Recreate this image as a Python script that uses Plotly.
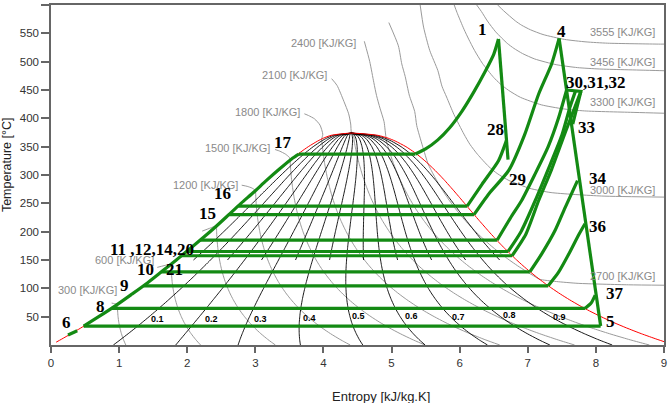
import plotly.graph_objects as go

# ---------------- saturation table (steam) ----------------
SAT_T  = [0.01, 5, 10, 20, 30, 40, 50, 60, 70, 80, 90, 100, 110, 120, 130, 140, 150, 160, 170, 180, 190,
          200, 210, 220, 230, 240, 250, 260, 270, 280, 290, 300, 310, 320, 330, 340, 350, 360, 365, 370, 373.95]
SAT_SF = [0.0, 0.0763, 0.151, 0.2966, 0.4369, 0.5725, 0.7038, 0.8313, 0.955, 1.075, 1.192, 1.307, 1.418, 1.528,
          1.634, 1.739, 1.842, 1.943, 2.042, 2.140, 2.236, 2.331, 2.425, 2.518, 2.610, 2.702, 2.794, 2.885,
          2.977, 3.069, 3.161, 3.255, 3.351, 3.449, 3.552, 3.660, 3.778, 3.916, 4.000, 4.111, 4.407]
SAT_SG = [9.155, 9.025, 8.899, 8.666, 8.452, 8.255, 8.075, 7.908, 7.754, 7.611, 7.478, 7.354, 7.238, 7.129,
          7.026, 6.929, 6.837, 6.749, 6.665, 6.584, 6.506, 6.430, 6.357, 6.284, 6.213, 6.142, 6.072, 6.001,
          5.930, 5.857, 5.783, 5.705, 5.623, 5.536, 5.441, 5.335, 5.211, 5.053, 4.950, 4.800, 4.407]
SAT_HF = [0.0, 21.0, 42.0, 83.9, 125.7, 167.5, 209.3, 251.1, 293.0, 334.9, 376.9, 419.1, 461.4, 503.8, 546.4,
          589.2, 632.2, 675.5, 719.1, 763.1, 807.4, 852.3, 897.6, 943.6, 990.2, 1037.6, 1085.8, 1135.0,
          1185.3, 1236.9, 1290.0, 1345.0, 1402.2, 1462.2, 1525.9, 1594.5, 1670.9, 1761.7, 1817.0, 1890.7, 2084.3]
SAT_HG = [2501.0, 2510.1, 2519.2, 2537.4, 2555.6, 2573.5, 2591.3, 2608.8, 2626.1, 2643.0, 2659.6, 2675.6,
          2691.1, 2705.9, 2720.1, 2733.5, 2745.9, 2757.4, 2767.9, 2777.2, 2785.3, 2792.0, 2797.3, 2800.9,
          2802.9, 2803.0, 2800.9, 2796.6, 2789.7, 2779.9, 2766.7, 2749.6, 2727.9, 2700.6, 2666.0, 2621.8,
          2563.6, 2481.5, 2414.0, 2334.5, 2084.3]

QUALITY_MAJOR = [0.1, 0.2, 0.3, 0.4, 0.5, 0.6, 0.7, 0.8, 0.9]
QUALITY_MINOR = [0.05, 0.15, 0.25, 0.35, 0.45, 0.55, 0.65, 0.75, 0.85, 0.95]
QUALITY_MINOR_TMIN = 150
QUALITY_LABEL_S = [1.57, 2.35, 3.07, 3.80, 4.52, 5.30, 5.99, 6.73, 7.46]
QUALITY_LABEL_T = [45.7, 45.7, 45.7, 48.0, 51.6, 51.6, 49.8, 52.8, 49.8]

# ---------------- enthalpy lines ----------------
H_LEFT = [300, 600, 900, 1200, 1500, 1800, 2100, 2400]
H_LEFT_TAIL_S = {300: [0.98, 0.93, 0.89], 600: [1.765, 1.66, 1.56], 900: [2.43, 2.33, 2.22],
                 1200: [3.0, 2.95, 2.88, 2.80], 1500: [3.51, 3.50, 3.44, 3.36, 3.29],
                 1800: [3.975, 3.99, 3.95, 3.87, 3.78, 3.72],
                 2100: [4.41, 4.40, 4.37, 4.30, 4.20, 4.12],
                 2400: [4.92, 4.89, 4.83, 4.78, 4.74, 4.68, 4.60]}
H_LEFT_TAIL_T = {300: [71.6, 73, 74], 600: [142.6, 140, 137], 900: [210.5, 206, 201],
                 1200: [272.8, 277, 280, 282], 1500: [326, 331, 337, 342, 345],
                 1800: [363.5, 372, 388, 399, 405, 408],
                 2100: [375, 390, 408, 430, 458, 470],
                 2400: [366, 394, 418, 440, 463, 500, 536]}
H_LEFT_LABEL = ["300 [KJ/KG]", "600 [KJ/KG]", None, "1200 [KJ/KG]", "1500 [KJ/KG]",
                "1800 [KJ/KG]", "2100 [KJ/KG]", "2400 [KJ/KG]"]
H_LEFT_LABEL_S = [0.995, 1.54, None, 2.77, 3.24, 3.68, 4.08, 4.51]
H_LEFT_LABEL_T = [96.8, 149.6, None, 283, 348, 410.5, 476, 533.7]

# h = 2700 : low-pressure branch, wet part, supercritical branch
H2700_LOW_S = [9.0, 8.48, 7.74, 7.42, 7.17]
H2700_LOW_T = [105.5, 106.2, 108.8, 112, 116]
H2700_HIGH_S = [5.455, 5.37, 5.34, 5.26, 5.20, 5.15, 5.10, 4.96]
H2700_HIGH_T = [351, 387, 412, 441, 474, 496, 528, 569]

H3000_S = [9.0, 8.08, 7.342, 7.03, 6.724, 6.55, 6.427, 6.262, 6.15, 6.063, 5.916, 5.808, 5.74, 5.68, 5.56, 5.47, 5.42]
H3000_T = [261, 262.9, 269, 276.4, 290.3, 302.7, 314.9, 336.5, 354.2, 372.1, 406.8, 437.6, 456.7, 484.2, 520, 561, 600]
H3300_S = [9.0, 8.574, 7.832, 7.515, 7.2, 6.893, 6.717, 6.593, 6.498, 6.333, 6.218, 6.132, 6.063, 5.96, 5.92]
H3300_T = [409, 410.4, 413.1, 416.8, 423.8, 437, 449.5, 461.1, 472.3, 497.2, 519.9, 539.8, 557.3, 587, 600]
H3456_S = [9.0, 8.79, 8.049, 7.731, 7.416, 7.103, 6.923, 6.796, 6.699, 6.529, 6.408, 6.319, 6.25]
H3456_T = [484, 484.7, 487.1, 489.5, 494.7, 504.7, 514.3, 523.5, 532.3, 552.6, 571.6, 588.6, 600]
H3555_S = [9.0, 8.916, 8.173, 7.855, 7.538, 7.224, 7.041, 6.91, 6.82, 6.6455, 6.55]
H3555_T = [531, 531, 532.6, 534.9, 539.3, 547.9, 556.2, 564.3, 571.7, 589.8, 601]
H_RIGHT_LABEL = ["3555 [KJ/KG]", "3456 [KJ/KG]", "3300 [KJ/KG]", "3000 [KJ/KG]", "2700 [KJ/KG]"]
H_RIGHT_LABEL_T = [553, 500, 428, 274, 121.4]

# ---------------- cycle (green) ----------------
CYC_6_S = [0.25, 0.385]
CYC_6_T = [17.6, 25.2]
CYC_LIQ_S = [0.48, 0.70, 0.955, 1.19, 1.42, 1.63, 1.84, 2.04, 2.24, 2.43, 2.61, 2.79, 2.98, 3.16, 3.35, 3.55, 3.64]
CYC_LIQ_T = [33.4, 50, 70, 90, 110, 130, 150, 170, 190, 210, 230, 250, 270, 290, 310, 330, 337]
EVAP_T  = [33.4, 64.5, 104.5, 129, 157.5, 165, 185, 230, 245, 337]
EVAP_S0 = [0.48, 0.89, 1.36, 1.62, 1.91, 1.99, 2.19, 2.61, 2.75, 3.64]
EVAP_S1 = [8.07, 7.84, 7.30, 7.03, 6.77, 6.71, 6.55, 6.21, 6.11, 5.35]

HP_SH_S = [5.35, 5.5, 5.68, 5.85, 6.03, 6.2, 6.38, 6.5, 6.57]
HP_SH_T = [337, 346, 362, 383, 412, 445, 484, 513, 540]
HP_EXP_S = [6.57, 6.69, 6.71]
HP_EXP_T = [540, 365, 327]
ISO245_S = [6.11, 6.33, 6.57, 6.69]
ISO245_T = [245, 284, 325, 362]
REHEAT_S = [6.21, 6.43, 6.72, 6.95, 7.16, 7.35, 7.46]
REHEAT_T = [230, 267, 308, 370, 443, 496, 541]
LP_EXP_S = [7.46, 7.57, 8.07]
LP_EXP_T = [541, 450, 33.4]
TRI_S = [7.57, 7.78, 7.66]
TRI_T = [450, 447.5, 390]
ISO185_S = [6.55, 6.75, 6.91, 7.1, 7.3, 7.45, 7.57]
ISO185_T = [185, 225, 255, 300, 350, 400, 450]
ISO165_S = [6.71, 6.9, 7.11, 7.3, 7.5, 7.62, 7.7]
ISO165_T = [165, 200, 255, 310, 370, 420, 448]
ISO157_S = [6.77, 6.97, 7.16, 7.35, 7.55, 7.78]
ISO157_T = [157.5, 195, 255, 310, 375, 447.5]
ISO129_S = [7.03, 7.2, 7.4, 7.55, 7.73]
ISO129_T = [129, 160, 202, 243, 290]
ISO104_S = [7.30, 7.45, 7.6, 7.75, 7.84]
ISO104_T = [104.5, 128, 160, 195, 214]
ISO64_S = [7.84, 7.93, 7.99]
ISO64_T = [64.5, 74, 88]

POINT_LABELS = ["1", "4", "30,31,32", "28", "33", "29", "34", "36", "37", "5", "6", "8", "9", "10", "21",
                "11 ,12,14,20", "15", "16", "17"]
POINT_S = [6.34, 7.5, 8.0, 6.53, 7.86, 6.85, 8.03, 8.03, 8.28, 8.22, 0.23, 0.73, 1.08, 1.39, 1.81, 1.49, 2.30, 2.52, 3.41]
POINT_T = [556, 554, 463, 381, 384, 291.6, 293, 209, 91, 41, 39, 68.6, 105.6, 133, 133, 168.4, 232.8, 267, 357.7]

GREEN = "#138a13"
GRAY = "#9a9a9a"

fig = go.Figure()


def add(xs, ys, color, width, spline=True):
    fig.add_trace(go.Scatter(x=xs, y=ys, mode="lines",
                             line=dict(color=color, width=width, shape="spline" if spline else "linear",
                                       smoothing=0.6),
                             hoverinfo="skip", showlegend=False))


def wet_enthalpy(h):
    xs, ys = [], []
    for T, sf, sg, hf, hg in zip(SAT_T, SAT_SF, SAT_SG, SAT_HF, SAT_HG):
        if hf <= h <= hg and hg > hf:
            q = (h - hf) / (hg - hf)
            xs.append(sf + q * (sg - sf))
            ys.append(T)
    return xs, ys


# enthalpy lines (gray)
for h in H_LEFT:
    xs, ys = wet_enthalpy(h)
    add(xs + H_LEFT_TAIL_S[h], ys + H_LEFT_TAIL_T[h], GRAY, 1)
xs, ys = wet_enthalpy(2700)
add(H2700_LOW_S + xs + H2700_HIGH_S, H2700_LOW_T + ys + H2700_HIGH_T, GRAY, 1)
for S, T in [(H3000_S, H3000_T), (H3300_S, H3300_T), (H3456_S, H3456_T), (H3555_S, H3555_T)]:
    add(S, T, GRAY, 1)

# quality lines (black)
for q in QUALITY_MAJOR:
    add([sf + q * (sg - sf) for sf, sg in zip(SAT_SF, SAT_SG)], SAT_T, "black", 0.9)
for q in QUALITY_MINOR:
    pts = [(sf + q * (sg - sf), T) for T, sf, sg in zip(SAT_T, SAT_SF, SAT_SG) if T >= QUALITY_MINOR_TMIN]
    add([p[0] for p in pts], [p[1] for p in pts], "black", 0.9)

# saturation dome (red)
dome_s = SAT_SF[1:] + SAT_SG[::-1][1:-1]
dome_t = SAT_T[1:] + SAT_T[::-1][1:-1]
add(dome_s, dome_t, "red", 1)

# cycle (green)
add(CYC_6_S, CYC_6_T, GREEN, 3.2, False)
add(CYC_LIQ_S, CYC_LIQ_T, GREEN, 3.2)
for T, s0, s1 in zip(EVAP_T, EVAP_S0, EVAP_S1):
    add([s0, s1], [T, T], GREEN, 3.2, False)
for S, T in [(HP_SH_S, HP_SH_T), (ISO245_S, ISO245_T), (REHEAT_S, REHEAT_T), (ISO185_S, ISO185_T),
             (ISO165_S, ISO165_T), (ISO157_S, ISO157_T), (ISO129_S, ISO129_T), (ISO104_S, ISO104_T),
             (ISO64_S, ISO64_T)]:
    add(S, T, GREEN, 3.2)
for S, T in [(HP_EXP_S, HP_EXP_T), (LP_EXP_S, LP_EXP_T), (TRI_S, TRI_T)]:
    add(S, T, GREEN, 3.2, False)

ann = []
for lab, s, t in zip(H_LEFT_LABEL, H_LEFT_LABEL_S, H_LEFT_LABEL_T):
    if lab:
        ann.append(dict(x=s, y=t, text=lab, xanchor="right", yanchor="middle", showarrow=False,
                        font=dict(family="Liberation Sans", size=11, color="#8a8a8a")))
for lab, t in zip(H_RIGHT_LABEL, H_RIGHT_LABEL_T):
    ann.append(dict(x=8.9, y=t, text=lab, xanchor="right", yanchor="middle", showarrow=False,
                    font=dict(family="Liberation Sans", size=11, color="#8a8a8a")))
for q, s, t in zip(QUALITY_MAJOR, QUALITY_LABEL_S, QUALITY_LABEL_T):
    ann.append(dict(x=s, y=t, text="<b>%g</b>" % q, showarrow=False,
                    font=dict(family="Liberation Sans", size=9, color="black")))
for lab, s, t in zip(POINT_LABELS, POINT_S, POINT_T):
    ann.append(dict(x=s, y=t, text="<b>%s</b>" % lab, showarrow=False,
                    font=dict(family="Liberation Serif", size=17, color="black")))
ann.append(dict(x=0.538, y=-0.152, xref="paper", yref="paper", text="Entropy [kJ/kg.K]", showarrow=False,
                xanchor="center", yanchor="middle",
                font=dict(family="Liberation Sans", size=13, color="#222")))
ann.append(dict(x=-0.0707, y=0.531, xref="paper", yref="paper", text="Temperature [°C]", showarrow=False,
                xanchor="center", yanchor="middle", textangle=-90,
                font=dict(family="Liberation Sans", size=12.5, color="#222")))

fig.update_layout(
    width=669, height=403, margin=dict(l=51, r=3, t=4, b=58),
    plot_bgcolor="white", paper_bgcolor="white", showlegend=False,
    annotations=ann,
    xaxis=dict(range=[0, 9], tickvals=list(range(10)), showgrid=False, zeroline=False,
               showline=True, linecolor="#666", linewidth=1.5, mirror=True,
               ticks="outside", ticklen=6, tickcolor="#666", tickwidth=1.5,
               tickfont=dict(family="Liberation Sans", size=11.5, color="#333")),
    yaxis=dict(range=[0, 600], tickvals=list(range(50, 601, 50)), showgrid=False, zeroline=False,
               showline=True, linecolor="#666", linewidth=1.5, mirror=True,
               ticks="outside", ticklen=8, tickcolor="#666", tickwidth=1.5,
               tickfont=dict(family="Liberation Sans", size=11.5, color="#333")),
)

fig.write_html("out.html")
